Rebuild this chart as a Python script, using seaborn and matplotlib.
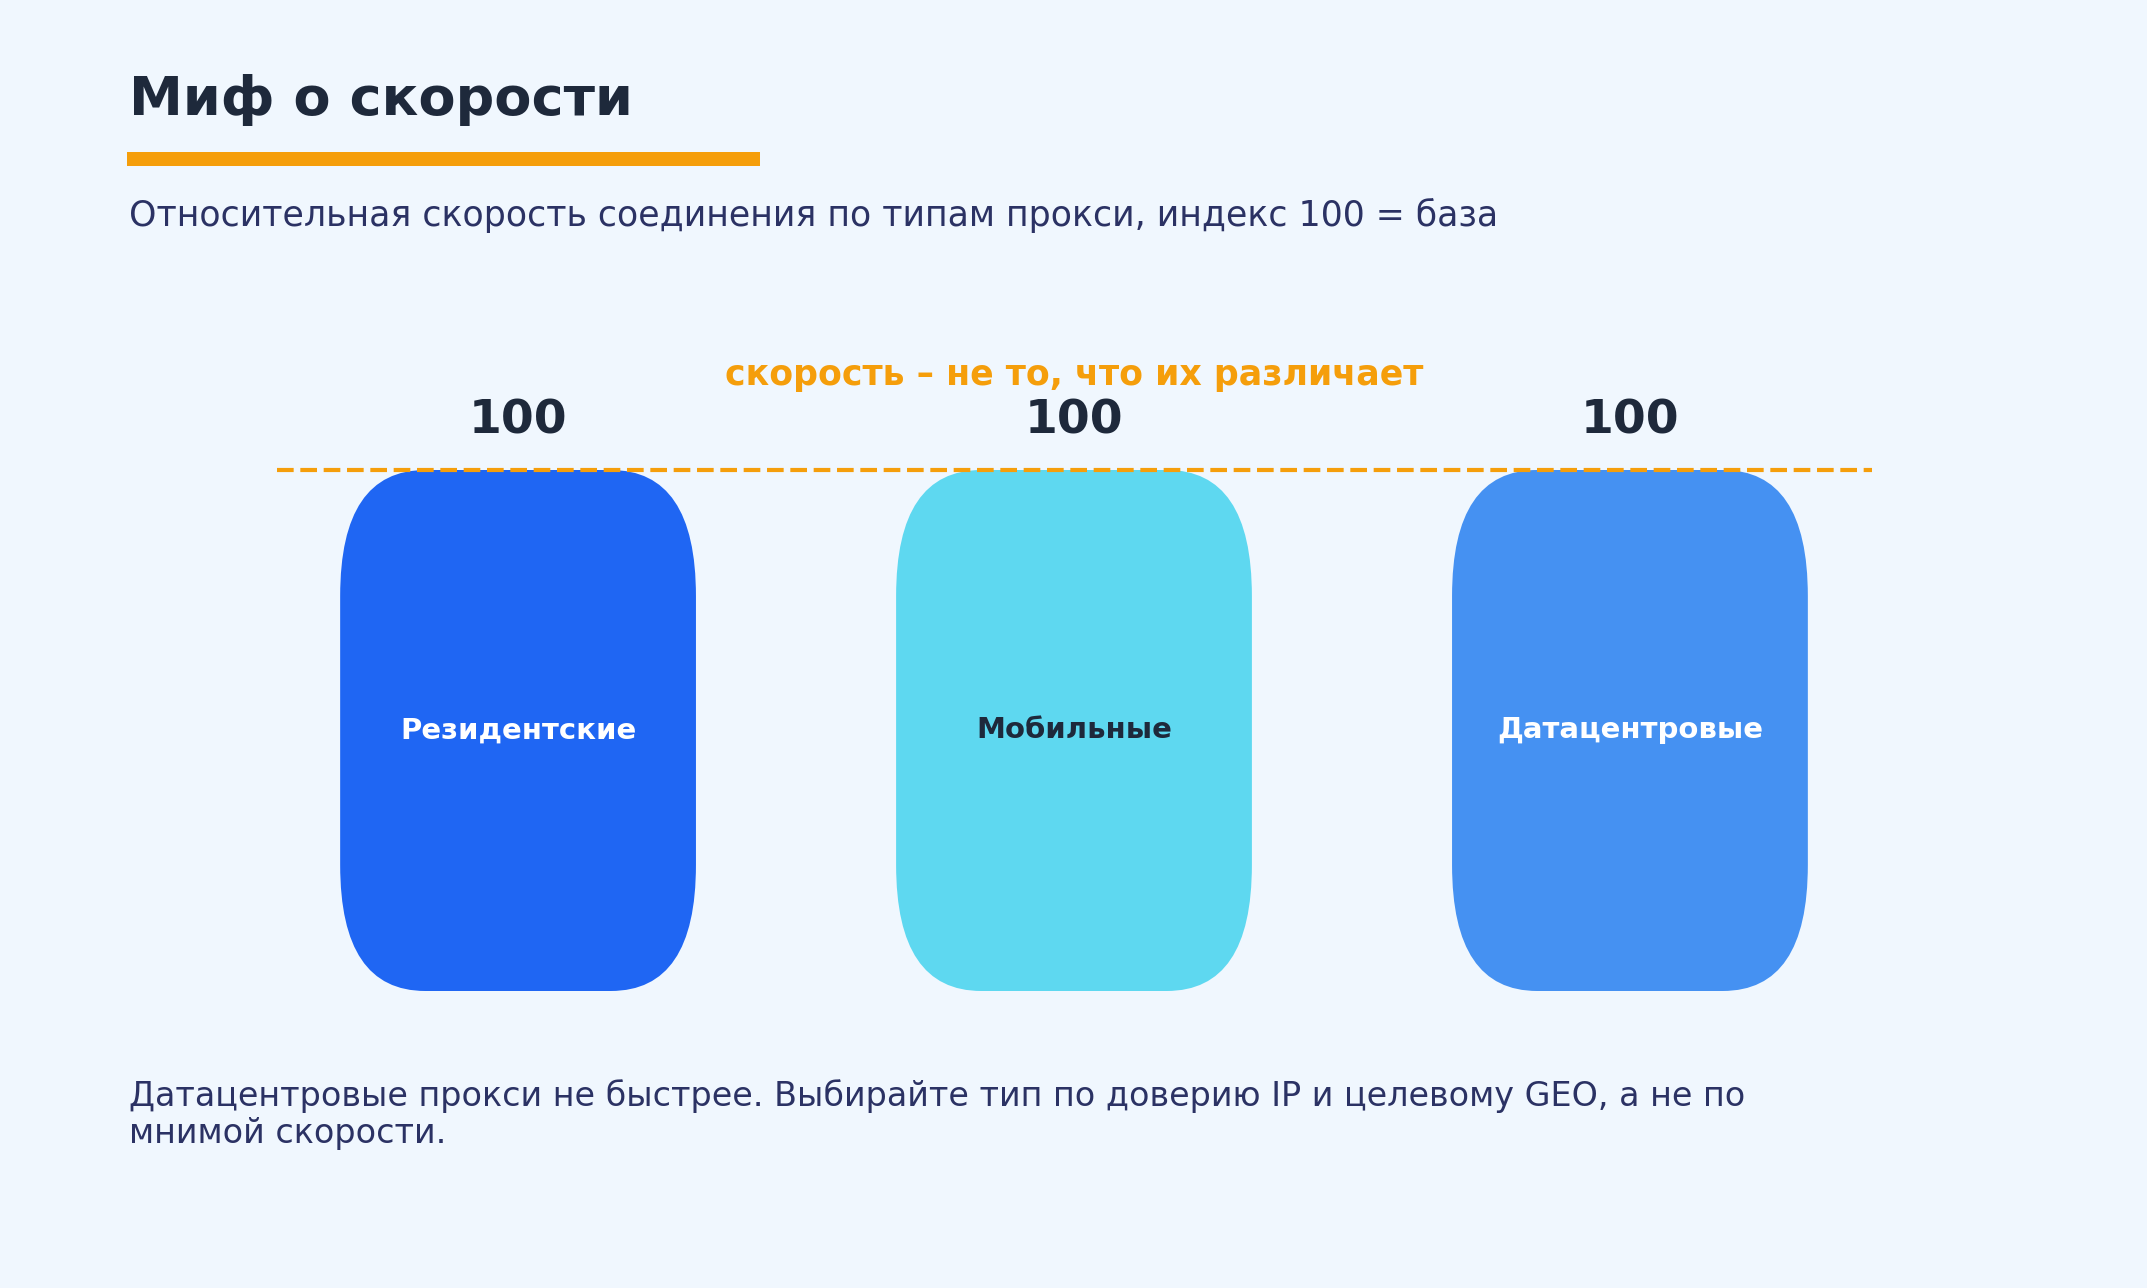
import matplotlib
matplotlib.use("Agg")
import matplotlib.pyplot as plt
from matplotlib.patches import FancyBboxPatch, Rectangle
import seaborn as sns

# DATA
categories = ["Резидентские", "Мобильные", "Датацентровые"]
speed_index = [100, 100, 100]
bar_colors = ["#1F66F3", "#5ED8F0", "#4591F2"]
label_colors = ["white", "#1E293B", "white"]

TITLE = "Миф о скорости"
SUBTITLE = "Относительная скорость соединения по типам прокси, индекс 100 = база"
NOTE = "скорость – не то, что их различает"
FOOTER = ("Датацентровые прокси не быстрее. Выбирайте тип по доверию IP и целевому GEO, а не по\n"
          "мнимой скорости.")

BG = "#F0F7FE"
ORANGE = "#F59E0B"
DARK = "#1E293B"
NAVY = "#2B3264"

sns.set_theme(style="white")
plt.rcParams["font.family"] = ["DejaVu Sans"]

fig = plt.figure(figsize=(21.47, 12.88), dpi=100)
fig.patch.set_facecolor(BG)

W, H = 2147, 1288
# axes spans the dashed reference line horizontally and the bars vertically
ax = fig.add_axes([276.5 / W, 1 - 991 / H, 1595 / W, 521 / H])
ax.set_facecolor(BG)

sns.barplot(x=categories, y=speed_index, hue=categories, palette=bar_colors,
            legend=False, width=0.64, ax=ax)
ax.set_xlim(-0.4345, 2.4345)
ax.set_ylim(0, 100)

# swap plain bars for rounded ones
r = 0.153
aspect = 158
for p, col in zip(list(ax.patches), bar_colors):
    x0, y0, w, h = p.get_x(), p.get_y(), p.get_width(), p.get_height()
    p.remove()
    ax.add_patch(FancyBboxPatch((x0, y0), w, h,
                                boxstyle=f"round,pad=0,rounding_size={r}",
                                mutation_aspect=aspect, facecolor=col,
                                edgecolor="none", zorder=2))

ax.axhline(100, color=ORANGE, lw=3.0, linestyle=(0, (4.0, 1.6)), zorder=3, clip_on=False)

for i, (cat, v, lc) in enumerate(zip(categories, speed_index, label_colors)):
    ax.text(i, 50, cat, ha="center", va="center", color=lc,
            fontsize=21, fontweight="bold", zorder=4)
    ax.annotate(f"{v}", (i, v), xytext=(0, 36), textcoords="offset pixels",
                ha="center", va="baseline", fontsize=34, fontweight="bold",
                color=DARK, annotation_clip=False)

ax.axis("off")

fig.text(1074 / W, 1 - 385 / H, NOTE, ha="center", va="baseline",
         fontsize=25, fontweight="bold", color=ORANGE)

fig.text(129 / W, 1 - 115 / H, TITLE, ha="left", va="baseline",
         fontsize=39, fontweight="bold", color=DARK)
fig.patches.append(Rectangle((127 / W, 1 - 166 / H), 633 / W, 14 / H,
                             transform=fig.transFigure, facecolor=ORANGE,
                             edgecolor="none"))
fig.text(129 / W, 1 - 226 / H, SUBTITLE, ha="left", va="baseline",
         fontsize=25, color=NAVY)
fig.text(129 / W, 1 - 1143 / H, FOOTER, ha="left", va="baseline",
         fontsize=24, color=NAVY, linespacing=1.15)

fig.savefig("out.png", dpi=100, facecolor=BG)
